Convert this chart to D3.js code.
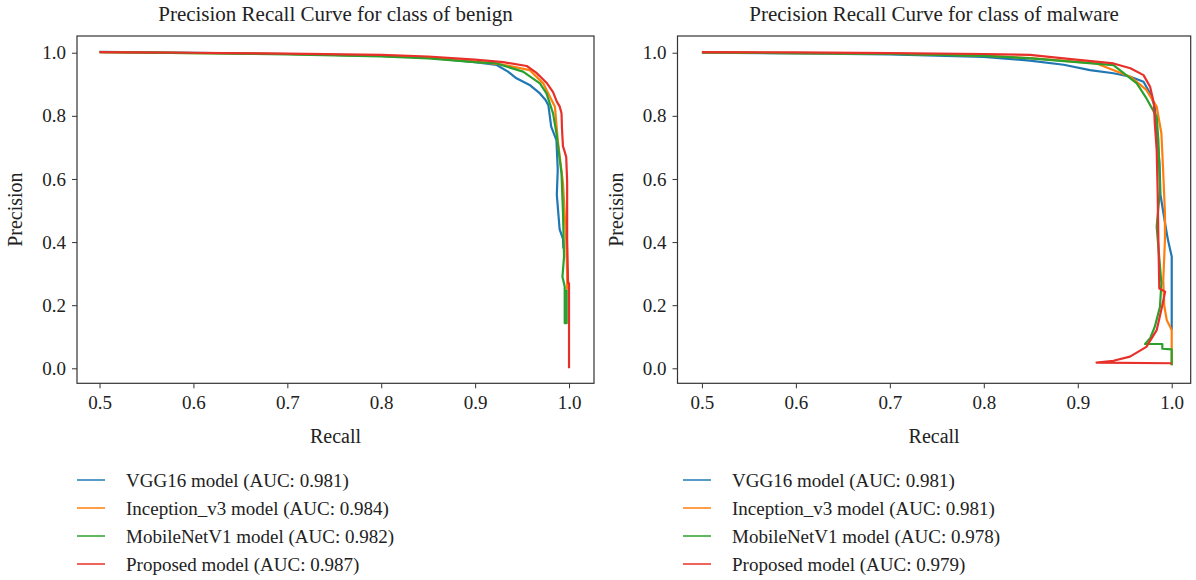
<!DOCTYPE html>
<html><head><meta charset="utf-8">
<script src="https://cdn.jsdelivr.net/npm/d3@7"></script>
<style>body{margin:0;background:#fff}svg{display:block}text{font-family:"Liberation Serif","Times New Roman",serif;fill:#222}</style>
</head><body>
<svg id="c" width="1196" height="580"></svg>
<script>
const models = ["VGG16 model", "Inception_v3 model", "MobileNetV1 model", "Proposed model"];
const colors = ["#1f77b4", "#ff7f0e", "#2ca02c", "#e8302a"];
const titles = ["Precision Recall Curve for class of benign", "Precision Recall Curve for class of malware"];
const xTicks = [0.5, 0.6, 0.7, 0.8, 0.9, 1.0];
const yTicks = [0.0, 0.2, 0.4, 0.6, 0.8, 1.0];
const aucBenign = [0.981, 0.984, 0.982, 0.987];
const aucMalware = [0.981, 0.981, 0.978, 0.979];

// [recall, precision]
const benignVGG16 = [[0.5,1.003],[0.6,1.0],[0.7,0.996],[0.8,0.99],[0.85,0.984],[0.9,0.97],[0.923,0.961],[0.935,0.94],[0.944,0.919],[0.958,0.898],[0.969,0.871],[0.975,0.85],[0.978,0.834],[0.981,0.766],[0.9866,0.723],[0.988,0.63],[0.987,0.55],[0.99,0.44],[0.9936,0.41],[0.994,0.38]];
const benignInception = [[0.5,1.002],[0.6,0.999],[0.7,0.996],[0.8,0.99],[0.85,0.985],[0.9,0.972],[0.93,0.962],[0.958,0.945],[0.9725,0.903],[0.985,0.829],[0.988,0.723],[0.9936,0.586],[0.997,0.407],[0.998,0.30],[0.998,0.25]];
const benignMobileNet = [[0.5,1.002],[0.6,0.999],[0.7,0.995],[0.8,0.988],[0.85,0.982],[0.88,0.975],[0.9,0.97],[0.923,0.966],[0.951,0.94],[0.969,0.903],[0.976,0.871],[0.983,0.808],[0.9866,0.745],[0.992,0.618],[0.9936,0.491],[0.9947,0.354],[0.993,0.29],[0.9954,0.259],[0.9954,0.143],[0.9975,0.143],[0.9975,0.25]];
const benignProposed = [[0.5,1.002],[0.6,1.0],[0.7,0.997],[0.8,0.993],[0.85,0.988],[0.9,0.978],[0.93,0.97],[0.955,0.958],[0.965,0.937],[0.976,0.905],[0.983,0.875],[0.987,0.845],[0.99,0.83],[0.992,0.808],[0.9925,0.76],[0.9935,0.705],[0.997,0.67],[0.998,0.59],[0.998,0.41],[0.999,0.27],[1.0,0.27],[1.0,0.0]];

const malwareVGG16 = [[0.5,1.0],[0.6,0.998],[0.7,0.995],[0.8,0.987],[0.849,0.975],[0.885,0.962],[0.913,0.945],[0.938,0.935],[0.956,0.924],[0.97,0.908],[0.977,0.871],[0.982,0.829],[0.984,0.75],[0.987,0.65],[0.988,0.55],[0.9947,0.428],[0.996,0.407],[1.0,0.354],[1.0,0.121]];
const malwareInception = [[0.5,1.001],[0.6,0.999],[0.7,0.997],[0.8,0.991],[0.85,0.983],[0.92,0.966],[0.956,0.924],[0.973,0.882],[0.984,0.829],[0.989,0.745],[0.991,0.618],[0.9928,0.491],[0.9928,0.407],[0.991,0.28],[0.992,0.2],[0.9947,0.153],[1.0,0.121],[1.0,0.01]];
const malwareMobileNet = [[0.5,1.001],[0.6,0.999],[0.7,0.996],[0.8,0.99],[0.85,0.982],[0.938,0.961],[0.9628,0.903],[0.973,0.856],[0.984,0.797],[0.9858,0.723],[0.9875,0.565],[0.984,0.449],[0.989,0.27],[0.9875,0.195],[0.982,0.132],[0.977,0.095],[0.9716,0.077],[0.99,0.077],[0.99,0.062],[1.0,0.06],[1.0,0.01]];
const malwareProposed = [[0.5,1.002],[0.6,1.001],[0.7,0.999],[0.8,0.996],[0.849,0.993],[0.885,0.982],[0.938,0.966],[0.956,0.951],[0.97,0.929],[0.977,0.892],[0.981,0.84],[0.982,0.776],[0.984,0.692],[0.985,0.565],[0.9858,0.407],[0.9868,0.253],[0.993,0.243],[0.99,0.2],[0.987,0.16],[0.984,0.121],[0.973,0.068],[0.9556,0.037],[0.938,0.024],[0.92,0.018],[1.0,0.016]];

const panels = [
  {title: titles[0], series: [benignVGG16, benignInception, benignMobileNet, benignProposed], auc: aucBenign,
   xr: [77, 594], xd: [0.476, 1.0266], legX: 77},
  {title: titles[1], series: [malwareVGG16, malwareInception, malwareMobileNet, malwareProposed], auc: aucMalware,
   xr: [677.5, 1190.7], xd: [0.474, 1.0202], legX: 683}
];
const yr = [383.3, 36], yd = [-0.0475, 1.053];

const svg = d3.select("#c");
panels.forEach(p => {
  const x = d3.scaleLinear().domain(p.xd).range(p.xr);
  const y = d3.scaleLinear().domain(yd).range(yr);
  const g = svg.append("g");
  const line = d3.line().x(d => x(d[0])).y(d => y(d[1]));
  p.series.forEach((s, i) => {
    g.append("path").attr("d", line(s)).attr("fill", "none")
      .attr("stroke", colors[i]).attr("stroke-width", 2.2).attr("stroke-linejoin", "round");
  });
  const xa = g.append("g").attr("transform", `translate(0,${yr[0]})`)
    .call(d3.axisBottom(x).tickValues(xTicks).tickFormat(d3.format(".1f")).tickSize(5).tickPadding(6));
  const ya = g.append("g").attr("transform", `translate(${p.xr[0]},0)`)
    .call(d3.axisLeft(y).tickValues(yTicks).tickFormat(d3.format(".1f")).tickSize(5).tickPadding(6));
  [xa, ya].forEach(a => {
    a.select(".domain").remove();
    a.selectAll("line").attr("stroke", "#333").attr("stroke-width", 1);
    a.selectAll("text").style("font-family", '"Liberation Serif", serif').style("font-size", "19px").attr("fill", "#222");
  });
  xa.selectAll("text").attr("dy", "0.8em");
  g.append("rect").attr("x", p.xr[0]).attr("y", yr[1]).attr("width", p.xr[1] - p.xr[0]).attr("height", yr[0] - yr[1])
    .attr("fill", "none").attr("stroke", "#333").attr("stroke-width", 1.2);
  const cx = (p.xr[0] + p.xr[1]) / 2;
  g.append("text").attr("x", cx).attr("y", 21).attr("text-anchor", "middle").style("font-size", "21px").text(p.title);
  g.append("text").attr("x", cx).attr("y", 443).attr("text-anchor", "middle").style("font-size", "20px").text("Recall");
  g.append("text").attr("transform", `translate(${p.xr[0] - 55},${(yr[0] + yr[1]) / 2}) rotate(-90)`)
    .attr("text-anchor", "middle").style("font-size", "20px").text("Precision");
  const ly = d3.scalePoint().domain(models).range([480, 564]);
  models.forEach((m, i) => {
    g.append("line").attr("x1", p.legX).attr("x2", p.legX + 28).attr("y1", ly(m)).attr("y2", ly(m))
      .attr("stroke", colors[i]).attr("stroke-width", 1.5);
    g.append("text").attr("x", p.legX + 49).attr("y", ly(m)).attr("dy", "0.35em").style("font-size", "19px")
      .text(`${m} (AUC: ${d3.format(".3f")(p.auc[i])})`);
  });
});
</script>
</body></html>
